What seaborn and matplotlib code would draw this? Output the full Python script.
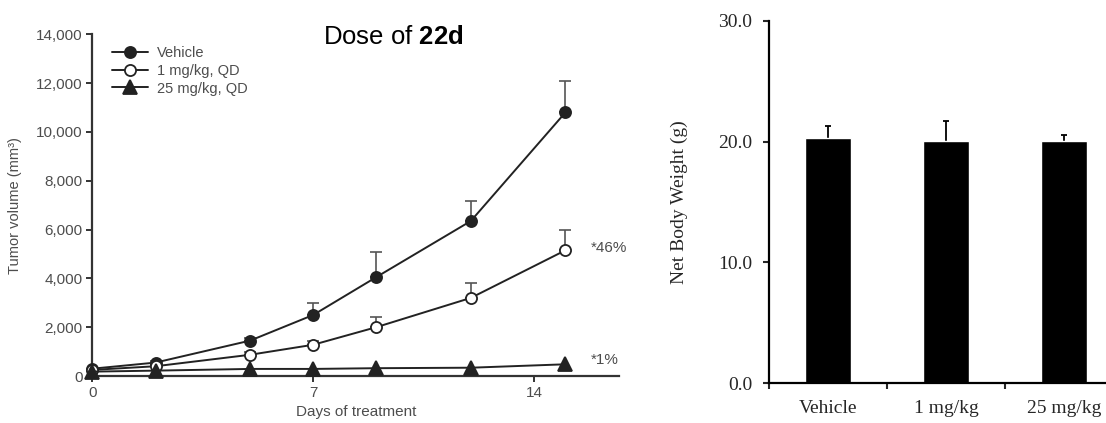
import numpy as np
import pandas as pd
import matplotlib
matplotlib.use("Agg")
import matplotlib.pyplot as plt
import seaborn as sns

# tumor volume (mm^3) by day of treatment
days = [0, 2, 5, 7, 9, 12, 15]
vehicle = [300, 550, 1450, 2500, 4050, 6350, 10800]
vehicle_err = [40, 60, 120, 480, 1050, 820, 1300]
dose_1 = [250, 400, 870, 1280, 2000, 3200, 5150]
dose_1_err = [30, 50, 100, 150, 430, 600, 850]
dose_25 = [180, 220, 290, 290, 320, 340, 480]
dose_25_err = [0, 0, 0, 0, 0, 0, 0]
series_names = ["Vehicle", "1 mg/kg, QD", "25 mg/kg, QD"]
end_labels = ["*46%", "*1%"]

# net body weight (g)
groups = ["Vehicle", "1 mg/kg", "25 mg/kg"]
body_weight = [20.3, 20.07, 20.02]
body_weight_err = [1.0, 1.6, 0.5]

sns.set_style("ticks")
plt.rcParams["font.family"] = ["Liberation Sans", "DejaVu Sans"]
plt.rcParams["mathtext.fontset"] = "custom"
plt.rcParams["mathtext.rm"] = "Liberation Sans"
plt.rcParams["mathtext.bf"] = "Liberation Sans:bold"

ink = "#222222"
grey = "#4d4d4d"

fig = plt.figure(figsize=(11.06, 4.23), dpi=100)
ax1 = fig.add_axes([0.0836, 0.1111, 0.4761, 0.8078])
ax2 = fig.add_axes([0.6953, 0.0939, 0.3201, 0.8571])

# ---- left: tumor growth ----
df = pd.DataFrame({
    "day": days * 3,
    "volume": vehicle + dose_1 + dose_25,
    "group": np.repeat(series_names, len(days)),
})
errs = [vehicle_err, dose_1_err, dose_25_err]
markers = ["o", "o", "^"]
faces = [ink, "white", ink]
sizes = [8, 8, 10]

for name, err, mk, fc, ms in zip(series_names, errs, markers, faces, sizes):
    sub = df[df["group"] == name]
    if max(err) > 0:
        ax1.errorbar(sub["day"], sub["volume"], yerr=[np.zeros(len(err)), err],
                     fmt="none", ecolor="#555555", elinewidth=1.2,
                     capsize=4, capthick=1.2, zorder=2)
    sns.lineplot(data=sub, x="day", y="volume", ax=ax1, color=ink, lw=1.4,
                 marker=mk, markersize=ms, markerfacecolor=fc,
                 markeredgecolor=ink, markeredgewidth=1.3,
                 errorbar=None, label=name, clip_on=False, zorder=3)

ax1.text(15.8, 5240, end_labels[0], fontsize=11, color=grey, va="center")
ax1.text(15.8, 655, end_labels[1], fontsize=11, color=grey, va="center")

ax1.set_xlim(0, 16.7)
ax1.set_ylim(0, 14000)
ax1.set_xticks([0, 7, 14])
ax1.set_yticks(range(0, 14001, 2000))
ax1.set_yticklabels([f"{v:,}" for v in range(0, 14001, 2000)])
ax1.tick_params(labelsize=11, colors="#333333", labelcolor=grey, length=4, width=1.4, pad=3)
ax1.set_xlabel("Days of treatment", fontsize=11, color=grey, labelpad=4)
ax1.set_ylabel("Tumor volume (mm³)", fontsize=10.5, color=grey)
ax1.yaxis.set_label_coords(-0.134, 0.5)
for side in ["top", "right"]:
    ax1.spines[side].set_visible(False)
for side in ["left", "bottom"]:
    ax1.spines[side].set_color("#333333")
    ax1.spines[side].set_linewidth(1.6)

leg = ax1.legend(loc="upper left", bbox_to_anchor=(0.037, 0.965), frameon=False,
                 fontsize=10.5, handlelength=2.5, handletextpad=0.6,
                 labelspacing=0.25, borderaxespad=0, borderpad=0)
for t in leg.get_texts():
    t.set_color(grey)

fig.text(393 / 1106, 1 - 44.3 / 423, r"Dose of $\mathbf{22d}$", ha="center",
         va="baseline", fontsize=18.5, color="black")

# ---- right: body weight ----
bw = pd.DataFrame({"group": groups, "weight": body_weight})
sns.barplot(data=bw, x="group", y="weight", ax=ax2, color="black",
            width=0.395, errorbar=None, saturation=1, zorder=2)
centers = [p.get_x() + p.get_width() / 2 for p in ax2.patches]
# symmetric bars drawn behind the columns, so only the upper half shows
ax2.errorbar(centers, body_weight, yerr=body_weight_err,
             fmt="none", ecolor="black", elinewidth=1.3, capsize=2.5,
             capthick=1.3, zorder=1)

serif = "Liberation Serif"
ax2.set_xlim(-0.5, 2.5)
ax2.set_ylim(0, 30)
ax2.set_yticks([0, 10, 20, 30])
ax2.set_yticklabels([f"{v:.1f}" for v in [0, 10, 20, 30]], fontfamily=serif)
ax2.set_xticks(range(len(groups)))
ax2.set_xticklabels(groups, fontfamily=serif)
ax2.set_xticks([-0.5, 0.5, 1.5, 2.5], minor=True)
ax2.tick_params(axis="x", which="major", length=0, pad=12, labelsize=14)
ax2.tick_params(axis="x", which="minor", length=4, width=1.5, direction="out")
ax2.tick_params(axis="y", length=4, width=1.5, pad=8, labelsize=14)
ax2.set_xlabel("")
ax2.set_ylabel("Net Body Weight (g)", fontsize=14, fontfamily=serif)
ax2.yaxis.set_label_coords(-0.229, 0.5)
for side in ["top", "right"]:
    ax2.spines[side].set_visible(False)
for side in ["left", "bottom"]:
    ax2.spines[side].set_color("black")
    ax2.spines[side].set_linewidth(1.6)

fig.savefig("out.png", dpi=100)
